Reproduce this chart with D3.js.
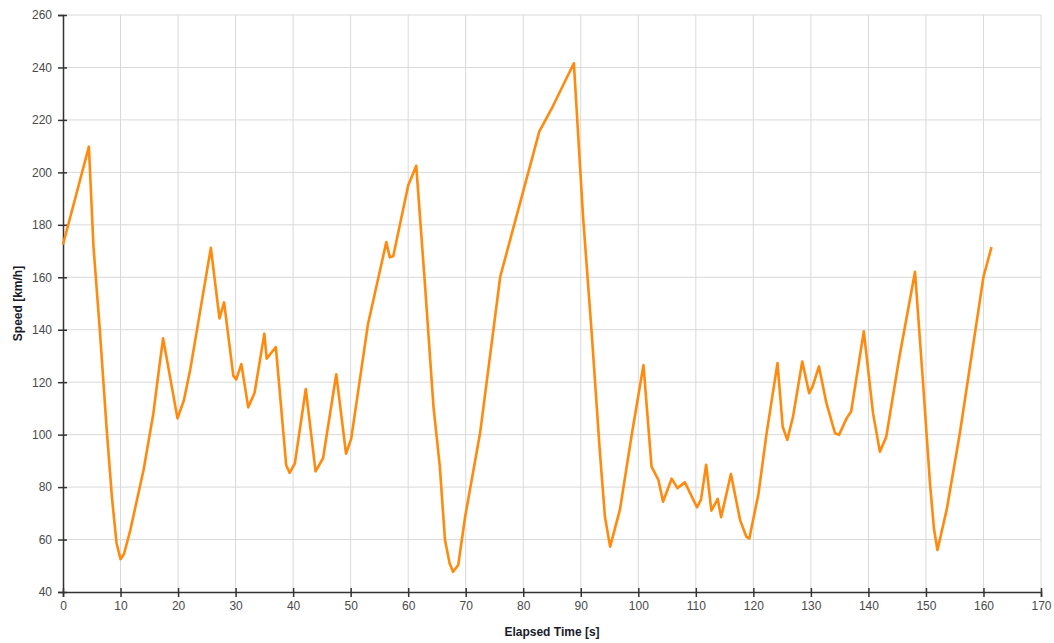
<!DOCTYPE html>
<html>
<head>
<meta charset="utf-8">
<script src="https://cdn.jsdelivr.net/npm/d3@7"></script>
<style>
  body { margin: 0; background: #fff; }
  text { font-family: "Liberation Sans", Arial, sans-serif; }
</style>
</head>
<body>
<script>
// elapsed time (s) and speed (km/h)
var times = [0, 4.5, 5.3, 6.4, 7.6, 8.5, 9.3, 10.0, 10.6, 11.7, 14.0, 15.7, 16.6, 17.4, 19.9, 21.0, 22.1, 25.7,
  27.2, 28.0, 29.6, 30.1, 31.0, 32.2, 33.3,
  35.0, 35.4, 37.0, 38.8, 39.4, 40.3, 42.2, 43.9, 45.2, 47.5, 49.2, 50.1, 53.0, 56.2, 56.8, 57.4, 60.0,
  61.4, 62.9, 64.4, 65.5, 66.4, 67.2, 67.8, 68.7, 69.9, 72.5, 76.0, 80.2, 82.8, 85.1, 88.8,
  90.4, 91.9, 93.3, 94.2, 95.1, 96.8, 98.9, 100.9, 102.3, 103.5, 104.3, 105.8, 106.8, 108.1,
  110.2, 110.9, 111.8, 112.7, 113.8, 114.4, 116.1, 117.7, 118.8, 119.3,
  120.9, 122.3, 124.2, 125.1, 125.9, 126.9, 128.5, 129.7, 130.3, 131.4, 132.7, 134.2, 134.9, 136.2, 137.0,
  139.2, 140.8, 142.0, 143.1, 145.4, 148.1, 149.5, 150.7, 151.4, 152.0, 153.6, 155.9, 160.0, 161.4];
var speeds = [172.5, 209.8, 171.6, 139.9, 101.8, 76.3, 58.7, 52.5, 54.5, 63.6, 86.5, 108, 123.5, 136.7, 106.2, 113, 124.6, 171.2,
  144.3, 150.4, 122.5, 121, 126.9, 110.4, 116,
  138.5, 129, 133.4, 88.3, 85.4, 89, 117.4, 86, 91, 123, 92.7, 98.5, 142, 173.4, 167.6, 168, 195,
  202.5, 157.8, 110.6, 87.8, 59.8, 51, 47.7, 50.3, 68.7, 100.6, 160.2, 194.5, 215.6, 225, 241.6,
  183, 138.7, 94, 68.7, 57.3, 71.3, 100.5, 126.5, 87.8, 82.7, 74.4, 83.2, 79.6, 81.8,
  72.3, 75.2, 88.5, 71, 75.5, 68.5, 85, 67.4, 61, 60.4,
  77.6, 100.5, 127.3, 103, 98, 106.9, 127.9, 115.8, 118.4, 126, 112, 100.5, 99.9, 106.2, 108.8,
  139.4, 108.2, 93.5, 99.2, 129.8, 162.1, 119.6, 81.5, 64, 56, 71.3, 100.6, 160.2, 171.5];

var xTicks = d3.range(0, 171, 10);
var yTicks = d3.range(40, 261, 20);

var w = 1054, h = 643;
var padLeft = 63, padRight = 1041, padTop = 15, padBottom = 592;

var svg = d3.select("body").append("svg")
  .attr("width", w)
  .attr("height", h);

var x = d3.scaleLinear().domain([0, 170]).range([padLeft, padRight]);
var y = d3.scaleLinear().domain([40, 260]).range([padBottom, padTop]);

// grid
svg.append("g").selectAll("line")
  .data(xTicks.slice(1))
  .enter().append("line")
  .attr("x1", function(d) { return x(d); })
  .attr("x2", function(d) { return x(d); })
  .attr("y1", padTop).attr("y2", padBottom)
  .attr("stroke", "#d9d9d9").attr("stroke-width", 1);

svg.append("g").selectAll("line")
  .data(yTicks.slice(1))
  .enter().append("line")
  .attr("y1", function(d) { return y(d); })
  .attr("y2", function(d) { return y(d); })
  .attr("x1", padLeft).attr("x2", padRight)
  .attr("stroke", "#d9d9d9").attr("stroke-width", 1);

// axes
var x_axis = d3.axisBottom(x).tickValues(xTicks).tickSize(5).tickPadding(4);
var y_axis = d3.axisLeft(y).tickValues(yTicks).tickSize(5).tickPadding(6);

var gx = svg.append("g")
  .attr("transform", "translate(0," + padBottom + ")")
  .call(x_axis);
var gy = svg.append("g")
  .attr("transform", "translate(" + padLeft + ",0)")
  .call(y_axis);

[gx, gy].forEach(function(g) {
  g.select(".domain").attr("stroke", "#333").attr("stroke-width", 1.5);
  g.selectAll(".tick line").attr("stroke", "#333").attr("stroke-width", 1.5);
  g.selectAll(".tick text").attr("fill", "#4a4a4a").style("font-size", "12px");
});
gx.selectAll(".tick line").attr("y1", -4);
gy.selectAll(".tick line").attr("x1", 4);

// the speed line
var pts = times.map(function(t, i) { return [t, speeds[i]]; });
var line = d3.line()
  .x(function(d) { return x(d[0]); })
  .y(function(d) { return y(d[1]); });

svg.append("path")
  .datum(pts)
  .attr("d", line)
  .attr("fill", "none")
  .attr("stroke", "#ff8a0d")
  .attr("stroke-width", 2.6)
  .attr("stroke-linejoin", "round");

// axis titles
svg.append("text")
  .attr("x", (padLeft + padRight) / 2)
  .attr("y", 636)
  .attr("text-anchor", "middle")
  .attr("font-weight", "bold")
  .style("font-size", "12px")
  .attr("fill", "#1a1a2a")
  .text("Elapsed Time [s]");

svg.append("text")
  .attr("transform", "translate(22," + (padTop + padBottom) / 2 + ") rotate(-90)")
  .attr("text-anchor", "middle")
  .attr("font-weight", "bold")
  .style("font-size", "12px")
  .attr("fill", "#1a1a2a")
  .text("Speed [km/h]");
</script>
</body>
</html>
